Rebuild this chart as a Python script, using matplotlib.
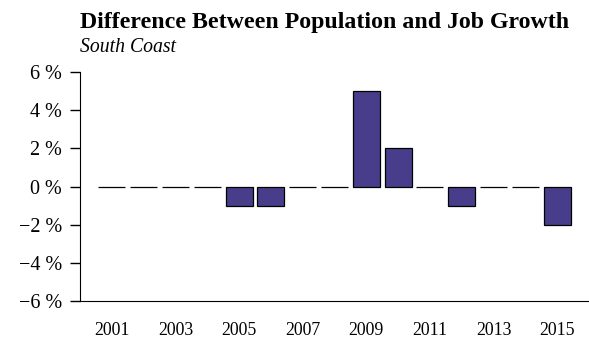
import matplotlib
matplotlib.use("Agg")
import matplotlib.pyplot as plt
from matplotlib.ticker import FuncFormatter

years = list(range(2001, 2016))
diff = [0, 0, 0, 0, -1, -1, 0, 0, 5, 2, 0, -1, 0, 0, -2]
year_ticks = [2001, 2003, 2005, 2007, 2009, 2011, 2013, 2015]
pct_ticks = [-6, -4, -2, 0, 2, 4, 6]

plt.rcParams['font.family'] = ['Liberation Serif', 'DejaVu Serif']

fig = plt.figure(figsize=(5.89, 3.39), dpi=100)
ax = fig.add_axes([80/589, 38/339, 509/589, 229/339])

ax.bar(years, diff, width=0.85, color='darkslateblue', edgecolor='black', linewidth=0.9)

ax.set_xlim(2000, 2016)
ax.set_ylim(-6, 6)
ax.set_yticks(pct_ticks)
ax.yaxis.set_major_formatter(FuncFormatter(lambda v, p: ('\u2212%d %%' % -v) if v < 0 else '%d %%' % v))
ax.set_xticks(year_ticks)
ax.set_xticklabels([str(y) for y in year_ticks])
ax.tick_params(axis='x', length=0, pad=15, labelsize=12.8)
ax.tick_params(axis='y', length=7, width=1, labelsize=14.5, pad=6)
ax.spines['top'].set_visible(False)
ax.spines['right'].set_visible(False)

fig.text(80/589, 1 - 28/339, 'Difference Between Population and Job Growth',
         fontsize=17.2, fontweight='bold', va='baseline', ha='left')
fig.text(80/589, 1 - 52/339, 'South Coast', fontsize=14.2, style='italic', va='baseline', ha='left')

fig.savefig('out.png', dpi=100)
